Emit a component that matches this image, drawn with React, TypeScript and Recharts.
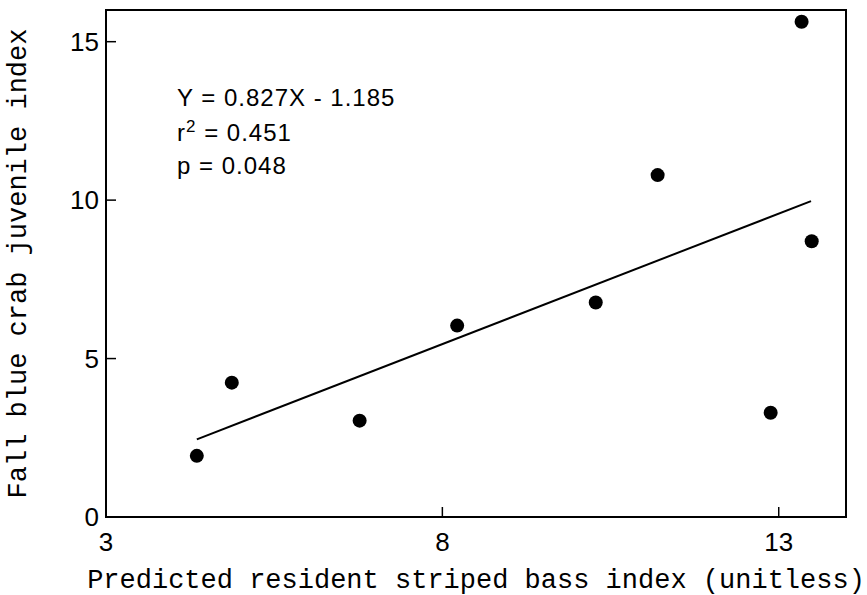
import React from "react";
import {
  ScatterChart,
  Scatter,
  XAxis,
  YAxis,
  ReferenceArea,
  ReferenceLine,
} from "recharts";

// values
const bassIndex = [4.35, 4.87, 6.77, 8.22, 10.28, 11.2, 12.88, 13.34, 13.49];
const crabIndex = [1.93, 4.24, 3.04, 6.04, 6.77, 10.79, 3.29, 15.63, 8.7];
const fitX = [4.35, 13.48];
const fitY = [2.45, 9.97];
const xTicks = [3, 8, 13];
const yTicks = [0, 5, 10, 15];

const points = bassIndex.map((x, i) => ({ x, y: crabIndex[i] }));

const TICK_FONT = "'Liberation Sans', Arial, sans-serif";
const TITLE_FONT = "'Liberation Mono', 'Courier New', monospace";

const XTick = (props: any) => {
  const { x, y, payload } = props;
  const axisY = y - 16;
  return (
    <g>
      <line x1={x} x2={x} y1={axisY} y2={axisY - 10} stroke="#000" strokeWidth={1.5} />
      <text x={x} y={y} dy="0.71em" textAnchor="middle" fontFamily={TICK_FONT} fontSize={26} fill="#000">
        {payload.value}
      </text>
    </g>
  );
};

const YTick = (props: any) => {
  const { x, y, payload } = props;
  const axisX = x + 7;
  return (
    <g>
      <line x1={axisX} x2={axisX + 10} y1={y} y2={y} stroke="#000" strokeWidth={1.5} />
      <text x={x} y={y} dy="0.36em" textAnchor="end" fontFamily={TICK_FONT} fontSize={26} fill="#000">
        {payload.value}
      </text>
    </g>
  );
};

const XTitle = ({ viewBox }: any) => (
  <text
    x={viewBox.x + viewBox.width / 2}
    y={588}
    textAnchor="middle"
    fontFamily={TITLE_FONT}
    fontSize={27}
    fill="#000"
  >
    Predicted resident striped bass index (unitless)
  </text>
);

const YTitle = ({ viewBox }: any) => {
  const cx = 19;
  const cy = viewBox.y + viewBox.height / 2;
  return (
    <text
      x={cx}
      y={cy}
      transform={`rotate(-90 ${cx} ${cy})`}
      textAnchor="middle"
      dominantBaseline="central"
      fontFamily={TITLE_FONT}
      fontSize={27}
      fill="#000"
    >
      Fall blue crab juvenile index
    </text>
  );
};

const Dot = (props: any) => <circle cx={props.cx} cy={props.cy} r={7} fill="#000" />;

export default function App() {
  return (
    <div style={{ position: "absolute", left: 0, top: 0, background: "#fff" }}>
      <ScatterChart width={867} height={595} margin={{ top: 10, right: 21, bottom: 0, left: 0 }}>
        <XAxis
          type="number"
          dataKey="x"
          domain={[3, 14]}
          ticks={xTicks}
          height={78}
          axisLine={false}
          tickLine={false}
          tickSize={0}
          tickMargin={16}
          tick={<XTick />}
          label={{ content: <XTitle /> }}
        />
        <YAxis
          type="number"
          dataKey="y"
          domain={[0, 16]}
          ticks={yTicks}
          width={106}
          axisLine={false}
          tickLine={false}
          tickSize={0}
          tickMargin={7}
          tick={<YTick />}
          label={{ content: <YTitle /> }}
        />
        <ReferenceArea x1={3} x2={14} y1={0} y2={16} fill="none" fillOpacity={0} stroke="#000" strokeWidth={2} />
        <ReferenceLine
          segment={[
            { x: fitX[0], y: fitY[0] },
            { x: fitX[1], y: fitY[1] },
          ]}
          stroke="#000"
          strokeWidth={2}
        />
        <Scatter data={points} shape={<Dot />} isAnimationActive={false} />
        <text fontFamily={TICK_FONT} fontSize={24} fill="#000" letterSpacing={1}>
          <tspan x={177} y={106}>Y = 0.827X - 1.185</tspan>
          <tspan x={177} y={141}>r</tspan>
          <tspan dy={-9} fontSize={17}>2</tspan>
          <tspan dy={9}> = 0.451</tspan>
          <tspan x={177} y={174}>p = 0.048</tspan>
        </text>
      </ScatterChart>
    </div>
  );
}
